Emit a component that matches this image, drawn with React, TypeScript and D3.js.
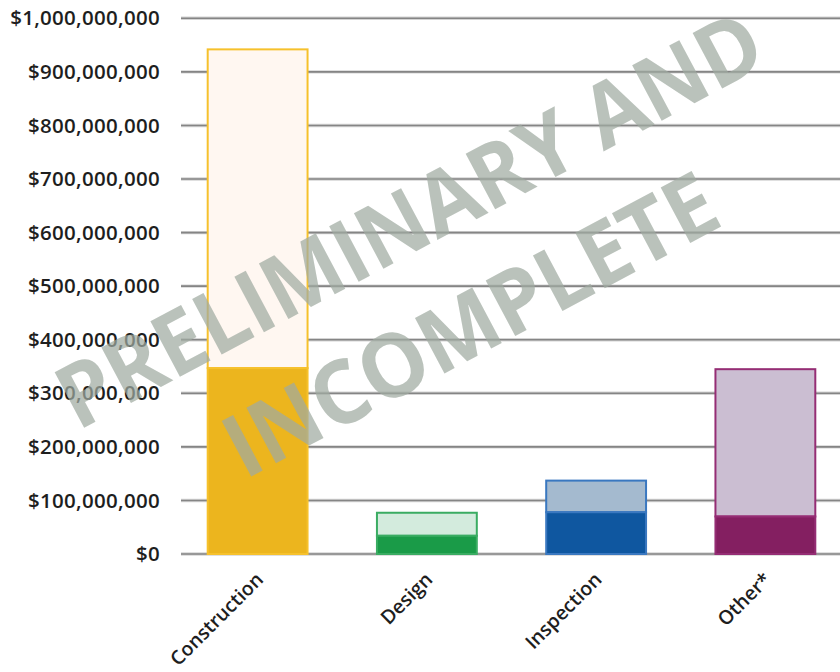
import React from "react";
import * as d3 from "d3";

const categories = ["Construction", "Design", "Inspection", "Other*"];
const baseValues = [347e6, 34e6, 78e6, 70e6];
const totalValues = [942e6, 77e6, 137e6, 345e6];
const yTicks = [0, 1e8, 2e8, 3e8, 4e8, 5e8, 6e8, 7e8, 8e8, 9e8, 1e9];
const darkColors = ["#ecb51e", "#1a9b48", "#0f57a0", "#841f61"];
const lightColors = ["#fff7f1", "#d3ebdd", "#a4bacf", "#cbbed2"];
const borderColors = ["#f6c12c", "#3aac62", "#3a78c0", "#952d74"];
const watermarkLines = ["PRELIMINARY AND", "INCOMPLETE"];

const W = 840;
const H = 672;

export default function App() {
  const y = d3.scaleLinear().domain([0, 1e9]).range([554, 18.3]);
  const x = d3
    .scaleBand<string>()
    .domain(categories)
    .range([173, 850])
    .paddingInner(0.41)
    .paddingOuter(0.205);
  const fmt = d3.format("$,.0f");
  const font = "'Open Sans', 'Noto Sans', sans-serif";

  return (
    <div style={{ position: "absolute", left: 0, top: 0 }}>
      <svg width={W} height={H} style={{ display: "block", background: "#fff" }}>
        {/* gridlines */}
        {yTicks.map((t) => (
          <g key={t}>
            <line x1={181} x2={W} y1={y(t)} y2={y(t)} stroke="#d4d4d4" strokeWidth={3.4} />
            <line x1={181} x2={W} y1={y(t)} y2={y(t)} stroke="#858585" strokeWidth={1.6} />
            <text
              x={160}
              y={y(t)}
              dy="0.35em"
              textAnchor="end"
              fontFamily={font}
              fontWeight={600}
              fontSize={20.5}
              letterSpacing={0.3}
              fill="#1e1e1e"
            >
              {fmt(t)}
            </text>
          </g>
        ))}
        {/* bars */}
        {categories.map((c, i) => {
          const x0 = x(c)!;
          const bw = x.bandwidth();
          return (
            <g key={c}>
              <rect
                x={x0}
                y={y(totalValues[i])}
                width={bw}
                height={y(baseValues[i]) - y(totalValues[i])}
                fill={lightColors[i]}
                stroke={borderColors[i]}
                strokeWidth={2}
              />
              <rect
                x={x0}
                y={y(baseValues[i])}
                width={bw}
                height={y(0) - y(baseValues[i])}
                fill={darkColors[i]}
                stroke={borderColors[i]}
                strokeWidth={2}
              />
            </g>
          );
        })}
        {/* x labels */}
        {categories.map((c) => {
          const cx = x(c)! + x.bandwidth() / 2 + 2;
          const cy = 576;
          return (
            <text
              key={c}
              x={cx}
              y={cy}
              transform={`rotate(-45 ${cx} ${cy})`}
              textAnchor="end"
              dy="0.35em"
              fontFamily={font}
              fontWeight={600}
              fontSize={19.5}
              fill="#1e1e1e"
            >
              {c}
            </text>
          );
        })}
        {/* watermark */}
        <g fill="rgb(159,171,161)" fillOpacity={0.72} fontFamily={font} fontWeight={700}>
          <text
            x={424}
            y={247}
            transform="rotate(-28 424 247)"
            textAnchor="middle"
            fontSize={88}
            textLength={785}
            lengthAdjust="spacingAndGlyphs"
          >
            {watermarkLines[0]}
          </text>
          <text
            x={485}
            y={352}
            transform="rotate(-28 485 352)"
            textAnchor="middle"
            fontSize={88}
            textLength={545}
            lengthAdjust="spacingAndGlyphs"
          >
            {watermarkLines[1]}
          </text>
        </g>
      </svg>
    </div>
  );
}
